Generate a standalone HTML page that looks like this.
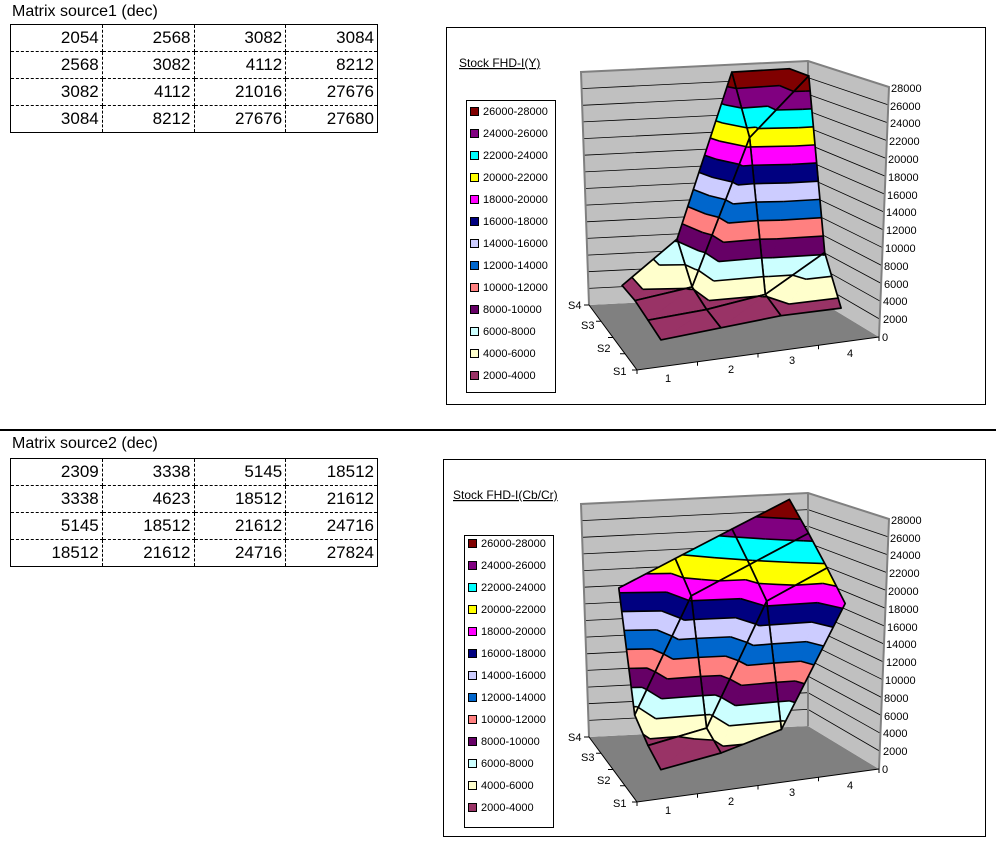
<!DOCTYPE html>
<html><head><meta charset="utf-8">
<style>
html,body{margin:0;padding:0;background:#fff;}
body{width:996px;height:848px;position:relative;overflow:hidden;font-family:"Liberation Sans","Noto Sans CJK JP",sans-serif;}
.ttl{position:absolute;font-size:16px;color:#000;}
table{position:absolute;border-collapse:collapse;border:1px solid #000;}
td{width:91px;height:26px;padding:0 3px 0 0;text-align:right;font-size:17px;border-right:1px dashed #000;border-bottom:1px dashed #000;line-height:26px;box-sizing:border-box;}
td:last-child{border-right:none;}
tr:last-child td{border-bottom:none;}
.hr{position:absolute;left:0;top:429px;width:996px;height:2px;background:#000;}
svg{position:absolute;left:0;top:0;}
</style></head><body>
<div class="ttl" style="left:12px;top:3px;">Matrix source1 (dec)</div>
<table style="left:10px;top:24px;width:368px;">
<tr><td>2054</td><td>2568</td><td>3082</td><td>3084</td></tr>
<tr><td>2568</td><td>3082</td><td>4112</td><td>8212</td></tr>
<tr><td>3082</td><td>4112</td><td>21016</td><td>27676</td></tr>
<tr><td>3084</td><td>8212</td><td>27676</td><td>27680</td></tr>
</table>
<div class="hr"></div>
<div class="ttl" style="left:12px;top:435px;">Matrix source2 (dec)</div>
<table style="left:10px;top:458px;width:368px;">
<tr><td>2309</td><td>3338</td><td>5145</td><td>18512</td></tr>
<tr><td>3338</td><td>4623</td><td>18512</td><td>21612</td></tr>
<tr><td>5145</td><td>18512</td><td>21612</td><td>24716</td></tr>
<tr><td>18512</td><td>21612</td><td>24716</td><td>27824</td></tr>
</table>

<svg width="996" height="848" viewBox="0 0 996 848" font-family="Liberation Sans, Noto Sans CJK JP, sans-serif">
<rect x="446.5" y="27.5" width="539" height="377" fill="#fff" stroke="#000"/>
<rect x="443.5" y="459.5" width="542" height="377" fill="#fff" stroke="#000"/>
<g id="plot1"></g>
<g id="plot2"></g>

<text x="459" y="67" font-size="12" text-decoration="underline">Stock FHD-I(Y)</text>
<rect x="466.5" y="100.5" width="89" height="292" fill="#fff" stroke="#000"/>
<g font-size="11">
<rect x="470.5" y="107.5" width="8" height="8" fill="#800000" stroke="#000"/><text x="483" y="115">26000-28000</text>
<rect x="470.5" y="129.5" width="8" height="8" fill="#800080" stroke="#000"/><text x="483" y="137">24000-26000</text>
<rect x="470.5" y="151.5" width="8" height="8" fill="#00FFFF" stroke="#000"/><text x="483" y="159">22000-24000</text>
<rect x="470.5" y="173.5" width="8" height="8" fill="#FFFF00" stroke="#000"/><text x="483" y="181">20000-22000</text>
<rect x="470.5" y="195.5" width="8" height="8" fill="#FF00FF" stroke="#000"/><text x="483" y="203">18000-20000</text>
<rect x="470.5" y="217.5" width="8" height="8" fill="#000080" stroke="#000"/><text x="483" y="225">16000-18000</text>
<rect x="470.5" y="239.5" width="8" height="8" fill="#CCCCFF" stroke="#000"/><text x="483" y="247">14000-16000</text>
<rect x="470.5" y="261.5" width="8" height="8" fill="#0066CC" stroke="#000"/><text x="483" y="269">12000-14000</text>
<rect x="470.5" y="283.5" width="8" height="8" fill="#FF8080" stroke="#000"/><text x="483" y="291">10000-12000</text>
<rect x="470.5" y="305.5" width="8" height="8" fill="#660066" stroke="#000"/><text x="483" y="313">8000-10000</text>
<rect x="470.5" y="327.5" width="8" height="8" fill="#CCFFFF" stroke="#000"/><text x="483" y="335">6000-8000</text>
<rect x="470.5" y="349.5" width="8" height="8" fill="#FFFFCC" stroke="#000"/><text x="483" y="357">4000-6000</text>
<rect x="470.5" y="371.5" width="8" height="8" fill="#993366" stroke="#000"/><text x="483" y="379">2000-4000</text>
</g>
<g font-size="11">
<text x="882" y="341">0</text><text x="883" y="323">2000</text><text x="883" y="305">4000</text><text x="884" y="288">6000</text>
<text x="884" y="270">8000</text><text x="885" y="252">10000</text><text x="886" y="234">12000</text><text x="886" y="216">14000</text>
<text x="887" y="199">16000</text><text x="888" y="181">18000</text><text x="888" y="163">20000</text><text x="889" y="145">22000</text>
<text x="890" y="127">24000</text><text x="890" y="110">26000</text><text x="891" y="92">28000</text>
<text x="568" y="309">S4</text><text x="581" y="329">S3</text><text x="597" y="352">S2</text><text x="613" y="375">S1</text>
<text x="665" y="382">1</text><text x="728" y="373">2</text><text x="789" y="364">3</text><text x="847" y="357">4</text>
</g>

<text x="453" y="499" font-size="12" text-decoration="underline">Stock FHD-I(Cb/Cr)</text>
<rect x="464.5" y="535.5" width="89" height="292" fill="#fff" stroke="#000"/>
<g font-size="11">
<rect x="468.5" y="539.5" width="8" height="8" fill="#800000" stroke="#000"/><text x="481" y="547">26000-28000</text>
<rect x="468.5" y="561.5" width="8" height="8" fill="#800080" stroke="#000"/><text x="481" y="569">24000-26000</text>
<rect x="468.5" y="583.5" width="8" height="8" fill="#00FFFF" stroke="#000"/><text x="481" y="591">22000-24000</text>
<rect x="468.5" y="605.5" width="8" height="8" fill="#FFFF00" stroke="#000"/><text x="481" y="613">20000-22000</text>
<rect x="468.5" y="627.5" width="8" height="8" fill="#FF00FF" stroke="#000"/><text x="481" y="635">18000-20000</text>
<rect x="468.5" y="649.5" width="8" height="8" fill="#000080" stroke="#000"/><text x="481" y="657">16000-18000</text>
<rect x="468.5" y="671.5" width="8" height="8" fill="#CCCCFF" stroke="#000"/><text x="481" y="679">14000-16000</text>
<rect x="468.5" y="693.5" width="8" height="8" fill="#0066CC" stroke="#000"/><text x="481" y="701">12000-14000</text>
<rect x="468.5" y="715.5" width="8" height="8" fill="#FF8080" stroke="#000"/><text x="481" y="723">10000-12000</text>
<rect x="468.5" y="737.5" width="8" height="8" fill="#660066" stroke="#000"/><text x="481" y="745">8000-10000</text>
<rect x="468.5" y="759.5" width="8" height="8" fill="#CCFFFF" stroke="#000"/><text x="481" y="767">6000-8000</text>
<rect x="468.5" y="781.5" width="8" height="8" fill="#FFFFCC" stroke="#000"/><text x="481" y="789">4000-6000</text>
<rect x="468.5" y="803.5" width="8" height="8" fill="#993366" stroke="#000"/><text x="481" y="811">2000-4000</text>
</g>
<g font-size="11">
<text x="882" y="773">0</text><text x="883" y="755">2000</text><text x="883" y="737">4000</text><text x="884" y="720">6000</text>
<text x="884" y="702">8000</text><text x="885" y="684">10000</text><text x="886" y="666">12000</text><text x="886" y="648">14000</text>
<text x="887" y="631">16000</text><text x="888" y="613">18000</text><text x="888" y="595">20000</text><text x="889" y="577">22000</text>
<text x="890" y="559">24000</text><text x="890" y="542">26000</text><text x="891" y="524">28000</text>
<text x="568" y="741">S4</text><text x="581" y="761">S3</text><text x="597" y="784">S2</text><text x="613" y="807">S1</text>
<text x="665" y="814">1</text><text x="728" y="805">2</text><text x="789" y="796">3</text><text x="847" y="789">4</text>
</g>
</svg>

<script>
(function(){
var NS="http://www.w3.org/2000/svg";
var cols=["#993366","#FFFFCC","#CCFFFF","#660066","#FF8080","#0066CC","#CCCCFF","#000080","#FF00FF","#FFFF00","#00FFFF","#800080","#800000"];
var FL=[637,370],FR=[879,337],BL=[589,305],BR=[808,294];
function P(u,v,z,dy){
  var gx=(1-v)*((1-u)*FL[0]+u*FR[0])+v*((1-u)*BL[0]+u*BR[0]);
  var gy=(1-v)*((1-u)*FL[1]+u*FR[1])+v*((1-u)*BL[1]+u*BR[1]);
  var f=z/28000;
  var h=(250+(233-250)*v)*f;
  var dx=((1-v)*(u*10)+v*((1-u)*(-8)))*f;
  return [gx+dx,gy-h+dy];
}
function el(g,tag,attrs){var e=document.createElementNS(NS,tag);for(var k in attrs)e.setAttribute(k,attrs[k]);g.appendChild(e);return e;}
function pts(a){return a.map(function(p){return p[0].toFixed(1)+","+p[1].toFixed(1);}).join(" ");}
function clip(poly,lvl,keepAbove){
  var out=[];
  for(var i=0;i<poly.length;i++){
    var a=poly[i],b=poly[(i+1)%poly.length];
    var ia=keepAbove?a[2]>=lvl:a[2]<=lvl, ib=keepAbove?b[2]>=lvl:b[2]<=lvl;
    if(ia)out.push(a);
    if(ia!==ib){var t=(lvl-a[2])/(b[2]-a[2]);out.push([a[0]+t*(b[0]-a[0]),a[1]+t*(b[1]-a[1]),lvl]);}
  }
  return out;
}
function draw(gid,M,dy){
  var g=document.getElementById(gid);
  function Q(p){return P(p[0],p[1],p[2],dy);}
  el(g,"polygon",{points:pts([Q([0,0,0]),Q([1,0,0]),Q([1,1,0]),Q([0,1,0])]),fill:"#808080"});
  el(g,"polygon",{points:pts([Q([0,1,0]),Q([1,1,0]),Q([1,1,28000]),Q([0,1,28000])]),fill:"#C0C0C0"});
  el(g,"polygon",{points:pts([Q([1,1,0]),Q([1,0,0]),Q([1,0,28000]),Q([1,1,28000])]),fill:"#C0C0C0"});
  for(var k=1;k<=14;k++){
    var z=k*2000;
    el(g,"polyline",{points:pts([Q([0,1,z]),Q([1,1,z]),Q([1,0,z])]),fill:"none",stroke:"#000","stroke-width":"0.8"});
  }
  el(g,"polyline",{points:pts([Q([0,1,0]),Q([0,1,28000]),Q([1,1,28000]),Q([1,0,28000]),Q([1,0,0])]),fill:"none",stroke:"#808080","stroke-width":"2"});
  el(g,"line",{x1:Q([1,1,0])[0],y1:Q([1,1,0])[1],x2:Q([1,1,28000])[0],y2:Q([1,1,28000])[1],stroke:"#808080","stroke-width":"2"});
  el(g,"polyline",{points:pts([Q([0,1,0]),Q([0,0,0]),Q([1,0,0])]),fill:"none",stroke:"#000","stroke-width":"1"});
  for(var k=0;k<=4;k++){
    var a=Q([k/4,0,0]);el(g,"line",{x1:a[0],y1:a[1],x2:a[0],y2:a[1]+4,stroke:"#000"});
    var b=Q([0,k/4,0]);el(g,"line",{x1:b[0],y1:b[1],x2:b[0]-5,y2:b[1],stroke:"#000"});
  }
  for(var j=3;j>=0;j--){
    for(var i=3;i>=0;i--){
      if(i>2||j>2)continue;
      var n00=[(i+0.5)/4,(j+0.5)/4,M[j][i]],n10=[(i+1.5)/4,(j+0.5)/4,M[j][i+1]],
          n01=[(i+0.5)/4,(j+1.5)/4,M[j+1][i]],n11=[(i+1.5)/4,(j+1.5)/4,M[j+1][i+1]];
      var tris=[[n00,n10,n11],[n00,n11,n01]];
      tris.forEach(function(t){
        for(var b=0;b<13;b++){
          var lo=2000+b*2000,hi=lo+2000;
          var p=clip(clip(t,lo,true),hi,false);
          if(p.length>=3){var s=p.map(Q);el(g,"polygon",{points:pts(s),fill:cols[b],stroke:cols[b],"stroke-width":"0.6"});}
        }
      });
      tris.forEach(function(t){
        for(var lv=4000;lv<=28000;lv+=2000){
          var seg=[];
          for(var e=0;e<3;e++){var a=t[e],c=t[(e+1)%3];
            if((a[2]-lv)*(c[2]-lv)<0){var tt=(lv-a[2])/(c[2]-a[2]);seg.push([a[0]+tt*(c[0]-a[0]),a[1]+tt*(c[1]-a[1]),lv]);}}
          if(seg.length==2){var s=seg.map(Q);el(g,"line",{x1:s[0][0],y1:s[0][1],x2:s[1][0],y2:s[1][1],stroke:"#000","stroke-width":"1.6"});}
        }
      });
      el(g,"polygon",{points:pts([n00,n10,n11,n01].map(Q)),fill:"none",stroke:"#000","stroke-width":"1.7","stroke-linejoin":"round"});
    }
  }
}
draw("plot1",[[2054,2568,3082,3084],[2568,3082,4112,8212],[3082,4112,21016,27676],[3084,8212,27676,27680]],0);
draw("plot2",[[2309,3338,5145,18512],[3338,4623,18512,21612],[5145,18512,21612,24716],[18512,21612,24716,27824]],432);
})();
</script>
</body></html>
